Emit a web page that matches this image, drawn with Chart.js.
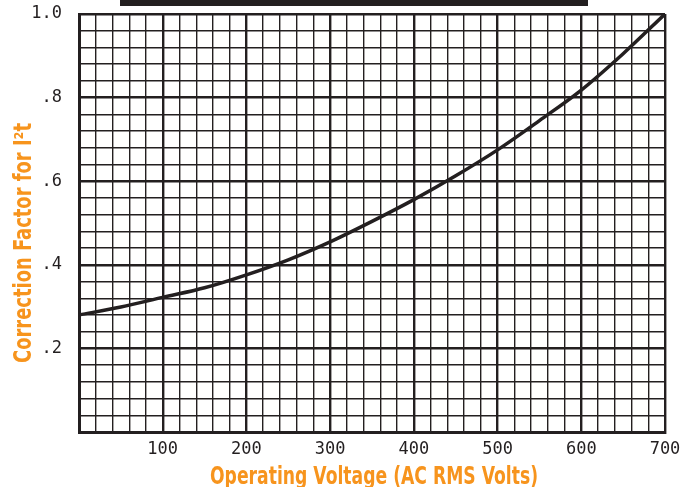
<!DOCTYPE html>
<html lang="en">
<head>
  <meta charset="UTF-8">
  <title>Correction Factor for I²t</title>
  <script src="https://cdn.jsdelivr.net/npm/chart.js"></script>
  <style>
    body {
      margin: 0;
      background-color: white;
    }
    #wrap {
      position: relative;
      width: 684px;
      height: 487px;
    }
    #topbar {
      position: absolute;
      left: 120px;
      top: 0;
      width: 468px;
      height: 6px;
      background: #231f20;
      z-index: 2;
    }
  </style>
</head>
<body>
  <div id="wrap">
    <div id="topbar"></div>
    <canvas id="plot" width="684" height="487"></canvas>
  </div>

  <script>
    // valores
    const voltages = [0, 50, 100, 150, 200, 250, 300, 350, 400, 450, 500, 550, 600, 650, 700];
    const factors = [0.28, 0.299, 0.322, 0.345, 0.376, 0.412, 0.455, 0.504, 0.556, 0.613, 0.675, 0.745, 0.818, 0.905, 1.0];
    const xLabels = ['100', '200', '300', '400', '500', '600', '700'];
    const yLabels = ['.2', '.4', '.6', '.8', '1.0'];

    const xTitle = 'Operating Voltage (AC RMS Volts)';
    const yTitle = 'Correction Factor for I\u00b2t';
    const orange = '#f7941d';
    const ink = '#231f20';

    // titulos condensados, dibujados a mano
    const titles = {
      id: 'titles',
      afterDraw(chart) {
        const c = chart.ctx;
        c.save();
        c.fillStyle = orange;
        c.font = 'bold 24px "Liberation Sans Narrow", "DejaVu Sans Condensed", "Liberation Sans", sans-serif';
        c.textAlign = 'center';
        c.textBaseline = 'alphabetic';

        let w = c.measureText(xTitle).width;
        c.save();
        c.translate(374, 484);
        c.scale(328 / w, 1);
        c.fillText(xTitle, 0, 0);
        c.restore();

        w = c.measureText(yTitle).width;
        c.save();
        c.translate(31, 243);
        c.rotate(-Math.PI / 2);
        c.scale(240 / w, 1);
        c.fillText(yTitle, 0, 0);
        c.restore();
        c.restore();
      }
    };

    const tickFont = { family: '"DejaVu Sans Mono", monospace', size: 17 };

    new Chart(document.getElementById('plot').getContext('2d'), {
      type: 'line',
      data: {
        datasets: [{
          data: voltages.map((v, i) => ({ x: v, y: factors[i] })),
          borderColor: ink,
          borderWidth: 3.5,
          pointRadius: 0,
          cubicInterpolationMode: 'monotone',
          fill: false
        }]
      },
      options: {
        responsive: false,
        animation: false,
        layout: { padding: { top: 14, right: 19, left: 0, bottom: 0 } },
        plugins: {
          legend: { display: false },
          tooltip: { enabled: false }
        },
        scales: {
          x: {
            type: 'linear',
            min: 0,
            max: 700,
            afterFit: s => { s.height = 55; s.paddingLeft = 0; s.paddingRight = 0; },
            border: { width: 3, color: ink },
            grid: {
              color: ink,
              drawTicks: false,
              tickLength: 0,
              lineWidth: c => (c.tick.value % 100 === 0 ? 2.4 : 1.4)
            },
            ticks: {
              stepSize: 20,
              padding: 7,
              color: ink,
              font: tickFont,
              maxRotation: 0,
              autoSkip: false,
              callback: v => {
                const i = xLabels.indexOf(String(Math.round(v)));
                return i >= 0 ? xLabels[i] : '';
              }
            }
          },
          y: {
            min: 0,
            max: 1,
            afterFit: s => { s.width = 79; s.paddingTop = 0; s.paddingBottom = 0; },
            border: { width: 3, color: ink },
            grid: {
              color: ink,
              drawTicks: false,
              tickLength: 0,
              lineWidth: c => (Math.round(c.tick.value * 100) % 20 === 0 ? 2.4 : 1.4)
            },
            ticks: {
              stepSize: 0.04,
              padding: 17,
              color: ink,
              font: tickFont,
              autoSkip: false,
              callback: v => {
                const r = Math.round(v * 100);
                if (r === 0 || r % 20 !== 0) return '';
                return yLabels[r / 20 - 1];
              }
            }
          }
        }
      },
      plugins: [titles]
    });
  </script>
</body>
</html>
